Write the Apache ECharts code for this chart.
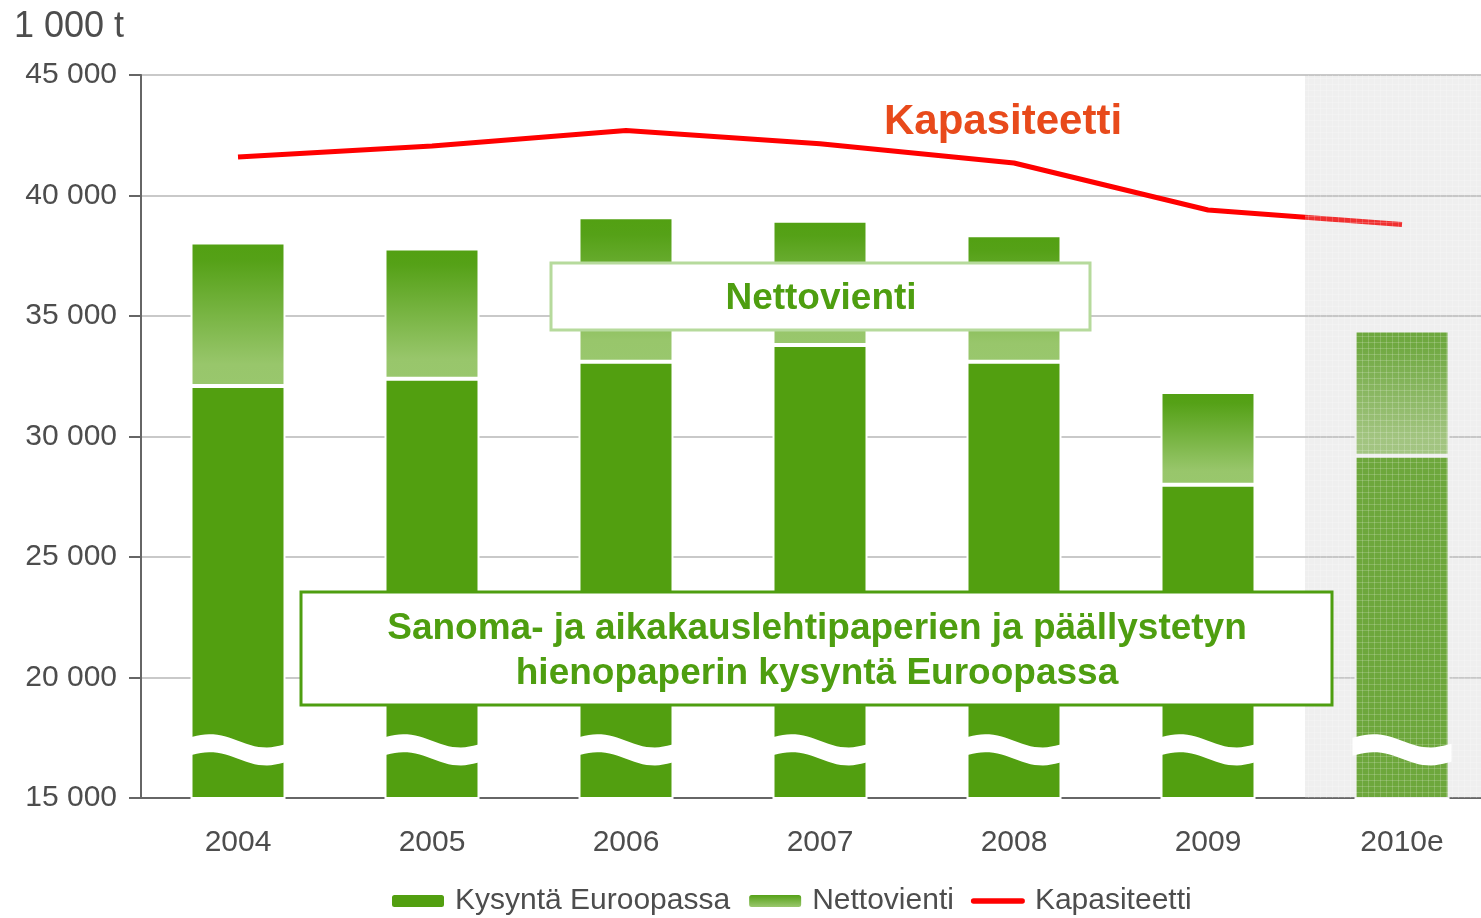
<!DOCTYPE html>
<html>
<head>
<meta charset="utf-8">
<script src="https://cdn.jsdelivr.net/npm/echarts@6/dist/echarts.min.js"></script>
<style>
  html, body { margin: 0; padding: 0; background: #fff; overflow: hidden; }
  #main { width: 1500px; height: 918px; }
</style>
</head>
<body>
<div id="main"></div>
<script>
// data (1 000 t)
var years = ['2004', '2005', '2006', '2007', '2008', '2009', '2010e']
var demand = [32100, 32400, 33100, 33800, 33100, 28000, 29200]
var netExport = [5950, 5400, 6000, 5150, 5250, 3850, 5200]
var capacity = [41600, 42050, 42700, 42150, 41350, 39400, 38800]
var forecastYear = '2010e'
var breakLevel = 17000 // where the axis break marks sit

var FONT = '"Liberation Sans", Arial, sans-serif'
var GREEN = '#529f10'

// texture for the estimate column
function makePattern () {
  var c = document.createElement('canvas')
  c.width = 6
  c.height = 6
  var ctx = c.getContext('2d')
  ctx.fillStyle = 'rgba(192,192,192,0.25)'
  ctx.fillRect(0, 0, 6, 6)
  ctx.fillStyle = 'rgba(255,255,255,0.18)'
  ctx.fillRect(0, 0, 6, 1)
  ctx.fillRect(0, 0, 1, 6)
  return c
}

var shadeData = years.map(function (y) { return y === forecastYear ? 45000 : '-' })
var breakData = years.map(function (y, i) { return [i, breakLevel] })

var myChart = echarts.init(document.getElementById('main'))
var option = {
  animation: false,
  textStyle: { fontFamily: FONT },
  grid: { left: 141, top: 75, width: 1358, height: 723 },
  legend: {
    left: 390,
    top: 886,
    padding: 0,
    itemWidth: 54,
    itemHeight: 14,
    itemGap: 17,
    textStyle: { fontSize: 30, color: '#4d4d4d', fontFamily: FONT, padding: [0, 0, 0, 5] },
    data: [
      'Kysyntä Euroopassa',
      'Nettovienti',
      { name: 'Kapasiteetti', icon: 'path://M3,0 L57,0 A3,3 0 0 1 57,6 L3,6 A3,3 0 0 1 3,0 Z' }
    ]
  },
  xAxis: [
    {
      type: 'category',
      data: years,
      axisLine: { lineStyle: { color: '#666', width: 2 } },
      axisTick: { length: 9, lineStyle: { color: '#666', width: 2 } },
      axisLabel: { fontSize: 30, color: '#4d4d4d', margin: 30 }
    },
    {
      type: 'category',
      data: years,
      show: false
    }
  ],
  yAxis: {
    type: 'value',
    min: 15000,
    max: 45000,
    interval: 5000,
    axisLine: { show: true, lineStyle: { color: '#666', width: 2 } },
    axisTick: { show: true, length: 12, lineStyle: { color: '#666', width: 2 } },
    axisLabel: {
      fontSize: 30,
      color: '#4d4d4d',
      margin: 24,
      formatter: function (v) { return String(v).replace(/\B(?=(\d{3})+(?!\d))/g, ' ') }
    },
    splitLine: { lineStyle: { color: '#c9c9c9', width: 2 } }
  },
  series: [
    {
      name: 'Kysyntä Euroopassa',
      type: 'bar',
      stack: 'total',
      barWidth: 95,
      itemStyle: { color: GREEN, borderColor: '#fff', borderWidth: 2 },
      emphasis: { disabled: true },
      data: demand
    },
    {
      name: 'Nettovienti',
      type: 'bar',
      stack: 'total',
      barWidth: 95,
      itemStyle: {
        color: new echarts.graphic.LinearGradient(0, 0, 0, 1, [
          { offset: 0, color: '#52a012' },
          { offset: 0.12, color: '#55a117' },
          { offset: 0.85, color: '#98c66b' },
          { offset: 1, color: '#99c76d' }
        ]),
        borderColor: '#fff',
        borderWidth: 2
      },
      emphasis: { disabled: true },
      data: netExport
    },
    {
      name: 'Kapasiteetti',
      type: 'line',
      symbol: 'none',
      z: 3,
      lineStyle: { color: '#ff0000', width: 5 },
      itemStyle: { color: '#ff0000' },
      emphasis: { disabled: true },
      data: capacity
    },
    {
      // estimate area overlay
      name: 'shade',
      type: 'bar',
      xAxisIndex: 1,
      barWidth: '100%',
      silent: true,
      z: 5,
      itemStyle: { color: { image: makePattern(), repeat: 'repeat' } },
      data: shadeData
    },
    {
      // axis break marks
      name: 'break',
      type: 'custom',
      silent: true,
      z: 6,
      renderItem: function (params, api) {
        var p = api.coord([api.value(0), api.value(1)])
        var w = api.size([1, 0])[0] * 0.49 + 4
        var x0 = p[0] - w / 2
        var top = []
        var bottom = []
        for (var k = 0; k <= 24; k++) {
          var t = k / 24
          var m = p[1] - 3 + 6 * t - 5 * Math.sin(2 * Math.PI * t)
          top.push([x0 + t * w, m - 9])
          bottom.unshift([x0 + t * w, m + 9])
        }
        return {
          type: 'polygon',
          shape: { points: top.concat(bottom) },
          style: { fill: '#fff' }
        }
      },
      data: breakData
    }
  ],
  graphic: [
    {
      type: 'text',
      left: 14,
      top: 9,
      z: 20,
      style: { text: '1 000 t', font: '36px ' + FONT, fill: '#4d4d4d' }
    },
    {
      type: 'text',
      left: 884,
      top: 101,
      z: 20,
      style: { text: 'Kapasiteetti', font: 'bold 42px ' + FONT, fill: '#e84a1b' }
    },
    {
      type: 'rect',
      z: 20,
      shape: { x: 551, y: 263, width: 539, height: 67 },
      style: { fill: '#fff', stroke: '#b6da9c', lineWidth: 3 }
    },
    {
      type: 'text',
      z: 21,
      x: 821,
      y: 299,
      style: {
        text: 'Nettovienti',
        font: 'bold 37px ' + FONT,
        fill: '#4e9e10',
        align: 'center',
        verticalAlign: 'middle'
      }
    },
    {
      type: 'rect',
      z: 20,
      shape: { x: 301, y: 592, width: 1031, height: 113 },
      style: { fill: '#fff', stroke: '#4e9e10', lineWidth: 3 }
    },
    {
      type: 'text',
      z: 21,
      x: 817,
      y: 651,
      style: {
        text: 'Sanoma- ja aikakauslehtipaperien ja päällystetyn\nhienopaperin kysyntä Euroopassa',
        font: 'bold 37px ' + FONT,
        lineHeight: 45,
        fill: '#4e9e10',
        align: 'center',
        verticalAlign: 'middle'
      }
    }
  ]
}

myChart.setOption(option)
</script>
</body>
</html>
